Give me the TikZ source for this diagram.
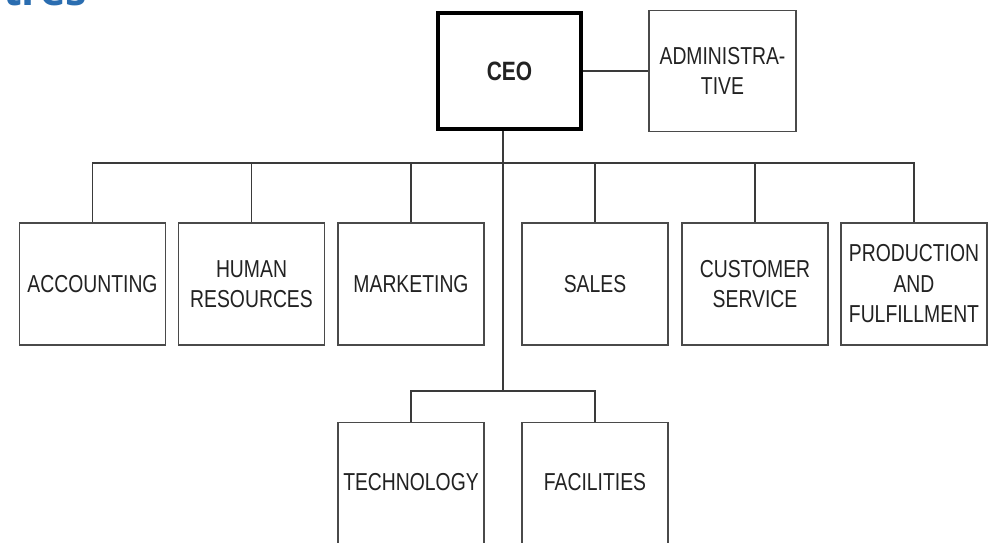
\documentclass[tikz,border=0pt]{standalone}
\usepackage{fontspec}
\setmainfont{Liberation Sans}[FakeStretch=0.79]
\newfontfamily\headfont{Open Sans}
\definecolor{linegray}{HTML}{3A3A3A}
\definecolor{boxgray}{HTML}{4A4A4A}
\definecolor{textgray}{HTML}{222222}
\definecolor{headblue}{HTML}{2A6DB0}
\begin{document}
\begin{tikzpicture}[x=1pt,y=-1pt,
  unit/.style={draw=boxgray,line width=1.3pt,fill=white,minimum width=146pt,minimum height=122pt,
    text=textgray,font=\fontsize{24.5}{30.5}\selectfont,align=center,inner sep=0pt},
  ceobox/.style={unit,draw=black,line width=3.2pt,minimum width=143pt,minimum height=116pt},
  lbl/.style={text=textgray,font=\fontsize{24.5}{30.5}\selectfont,inner sep=0pt},
  link/.style={draw=linegray,line width=1.2pt}]
\useasboundingbox (0,0) rectangle (990,542);
\begin{scope}
\clip (0,0) rectangle (990,542);
\node[anchor=base west,text=headblue,font=\headfont\bfseries\fontsize{43}{43}\selectfont,inner sep=0pt] (head) at (3,5) {tres};
\node[ceobox,font=\bfseries\fontsize{26.5}{30.5}\selectfont] (ceo) at (509.5,71) {CEO};
\node[unit,minimum width=147pt,minimum height=121pt] (adm) at (722.5,71) {ADMINISTRA-\\TIVE};
\node[unit] (acc) at (92.5,284) {ACCOUNTING};
\node[unit] (hr) at (251.5,284) {HUMAN\\RESOURCES};
\node[unit] (mkt) at (411,284) {MARKETING};
\node[unit] (sal) at (595,284) {SALES};
\node[unit] (cus) at (755,284) {CUSTOMER\\SERVICE};
\node[unit] (pro) at (914,284) {PRODUCTION\\AND\\FULFILLMENT};
\node[unit,anchor=north,minimum height=140pt] (tec) at (411,422) {};
\node[unit,anchor=north,minimum height=140pt] (fac) at (595,422) {};
\node[lbl] (tect) at (411,482) {TECHNOLOGY};
\node[lbl] (fact) at (595,482) {FACILITIES};
\coordinate (bus) at (503,163);
\coordinate (sub) at (503,391);
\draw[link] (ceo.east) -- (ceo.east -| adm.west);
\draw[link] (ceo.south -| bus) -- (sub);
\draw[link] (acc.north) |- (bus) -| (pro.north);
\draw[link] (hr.north) -- (hr.north |- bus);
\draw[link] (mkt.north) -- (mkt.north |- bus);
\draw[link] (sal.north) -- (sal.north |- bus);
\draw[link] (cus.north) -- (cus.north |- bus);
\draw[link] (tec.north) |- (sub) -| (fac.north);
\end{scope}
\end{tikzpicture}
\end{document}
